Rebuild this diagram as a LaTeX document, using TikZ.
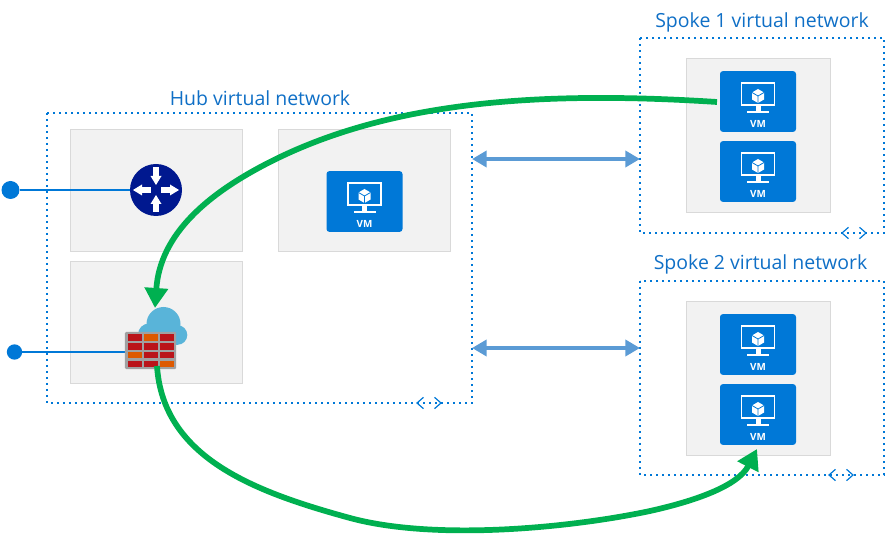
\documentclass[tikz,border=0pt]{standalone}
\usepackage{fontspec}
\setmainfont{Open Sans}
\usetikzlibrary{arrows.meta,calc}
\definecolor{azure}{HTML}{0078D7}
\definecolor{titleblue}{HTML}{0F6FC6}
\definecolor{graybox}{HTML}{F2F2F2}
\definecolor{grayline}{HTML}{D9D9D9}
\definecolor{peer}{HTML}{5B9BD5}
\definecolor{greenarrow}{HTML}{00B050}
\definecolor{routerblue}{HTML}{00188F}
\definecolor{cloudblue}{HTML}{59B4D9}
\definecolor{brick}{HTML}{BA141A}
\definecolor{brickor}{HTML}{DD5900}
\definecolor{wallgray}{HTML}{A0A1A2}
\tikzset{
  x=0.75pt,y=-0.75pt,
  vnet/.style={draw=azure,line width=1.3pt,dash pattern=on 1.3pt off 3.2pt,inner sep=0pt},
  subnet/.style={draw=grayline,fill=graybox,line width=0.6pt,inner sep=0pt},
  title/.style={text=titleblue,font=\fontsize{14.6}{16}\selectfont,inner sep=0pt,anchor=center},
  vmbox/.style={fill=azure,rounded corners=2.2pt,minimum width=57pt,minimum height=45.6pt,inner sep=0pt},
  vmtext/.style={text=white,font=\bfseries\fontsize{7.4}{9}\selectfont,inner sep=0pt},
  peering/.style={draw=peer,line width=2.8pt,{Triangle[length=11pt,width=12pt]}-{Triangle[length=11pt,width=12pt]}},
  link/.style={draw=azure,line width=2pt},
  route/.style={draw=greenarrow,line width=4.3pt},
  routeend/.style={route,-{Triangle[length=15pt,width=17pt]}},
  dot/.style={circle,fill=azure,inner sep=0pt},
  chev/.style={draw=azure,line width=0.9pt},
}
\newcommand{\vmicon}[2]{%
  \node[vmbox] (#1) at #2 {};
  \begin{scope}[shift={#2}]
    \draw[white,line width=1.1pt] (-16.5,-18.5) rectangle (16.5,3.5);
    \fill[white] (-2.5,3.5) rectangle (2.5,10);
    \fill[white] (-11,9.5) rectangle (11,11.5);
    \fill[white] (0,-12.5) -- (6,-9) -- (6,-2) -- (0,1.5) -- (-6,-2) -- (-6,-9) -- cycle;
    \draw[azure,line width=0.6pt] (0,-5.5) -- (0,1.5) (0,-5.5) -- (-6,-9) (0,-5.5) -- (6,-9);
    \node[vmtext] (#1t) at (0,22.5) {VM};
  \end{scope}}
\newcommand{\brick}[3]{\fill[#3] (#1,#2) rectangle +(14,6.5);}
\newcommand{\chevrons}[1]{%
  \begin{scope}[shift={#1}]
    \draw[chev] (-5.5,-5.7) -- (-12,0) -- (-5.5,5.7);
    \draw[chev] (5.5,-5.7) -- (12,0) -- (5.5,5.7);
  \end{scope}}
\begin{document}
\begin{tikzpicture}
\useasboundingbox (0,0) rectangle (885,534);
% virtual networks
\draw[vnet] (47,113) rectangle (472,403);
\draw[vnet] (640,38) rectangle (884,233);
\draw[vnet] (640,281) rectangle (884,475);
\chevrons{(429,403)}
\chevrons{(854,233)}
\chevrons{(841,475)}
\coordinate (hubL) at (472,159);
\coordinate (sp1R) at (640,159);
\coordinate (hubL2) at (472,348);
\coordinate (sp2R) at (640,348);
% titles
\node[title] (thub) at (260,98) {Hub virtual network};
\node[title] (ts1) at (762,22) {Spoke 1 virtual network};
\node[title] (ts2) at (760.5,264.5) {Spoke 2 virtual network};
% subnets
\node[subnet,minimum width=129pt,minimum height=91.5pt] (s1) at (156,190) {};
\node[subnet,minimum width=129pt,minimum height=91.5pt] (s2) at (364,190) {};
\node[subnet,minimum width=129pt,minimum height=92pt] (s3) at (156,322.5) {};
\node[subnet,minimum width=108pt,minimum height=116pt] (s4) at (758,135.5) {};
\node[subnet,minimum width=108pt,minimum height=116pt] (s5) at (758,378.5) {};
% VMs
\vmicon{vmhub}{(364.5,201.5)}
\vmicon{vma}{(758,101.5)}
\vmicon{vmb}{(758,171.5)}
\vmicon{vmc}{(758,344.5)}
\vmicon{vmd}{(758,414.5)}
% peerings
\draw[peering] (hubL) -- (sp1R);
\draw[peering] (hubL2) -- (sp2R);
% on-prem links
\node[dot,minimum size=13.5pt] (d1) at (10.5,190) {};
\node[dot,minimum size=11.5pt] (d2) at (14.5,352) {};
\node[circle,fill=routerblue,minimum size=39pt,inner sep=0pt] (router) at (156,190) {};
\coordinate (fwL) at (126,352);
\draw[link] (d1) -- (router);
\draw[link] (d2) -- (fwL);
% router arrows
\begin{scope}[shift={(156,190)},white]
  \foreach \a in {0,180}{
    \begin{scope}[rotate=\a]
      \fill (5,-2.8) rectangle (14,2.8);
      \fill (14,-5.5) -- (23,0) -- (14,5.5) -- cycle;
    \end{scope}}
  \foreach \a in {0,180}{
    \begin{scope}[rotate=\a]
      \fill (-2.8,-22.5) rectangle (2.8,-14);
      \fill (-5.5,-14) -- (0,-5) -- (5.5,-14) -- cycle;
    \end{scope}}
\end{scope}
% firewall
\coordinate (fwT) at (155,308);
\coordinate (fwB) at (157,366);
\fill[cloudblue] (163.5,324) circle (17);
\fill[cloudblue] (149,334.5) circle (11);
\fill[cloudblue] (177.5,335) circle (9.8);
\fill[cloudblue] (149,330) rectangle (178,345);
\node[fill=wallgray,rounded corners=1pt,minimum width=38.5pt,minimum height=28pt,inner sep=0pt] (fw) at (150.5,350.5) {};
\brick{128}{334.5}{brick}\brick{144}{334.5}{brickor}\brick{160}{334.5}{brick}
\brick{128}{343.3}{brick}\brick{144}{343.3}{brick}\brick{160}{343.3}{brick}
\brick{128}{352}{brickor}\brick{144}{352}{brick}\brick{160}{352}{brick}
\brick{128}{360.8}{brick}\brick{144}{360.8}{brick}\brick{160}{360.8}{brickor}
% routes
\coordinate (va) at (717,102);
\coordinate (vd) at (757,449);
\draw[routeend] (va) .. controls (547,91) and (398,100) .. (278,158)
  .. controls (206,193) and (160,235) .. (fwT);
\draw[routeend] (fwB) .. controls (163,458) and (255,492) .. (350,518)
  .. controls (435,541) and (570,528) .. (650,511)
  .. controls (695,501) and (738,486) .. (vd);
\end{tikzpicture}
\end{document}
